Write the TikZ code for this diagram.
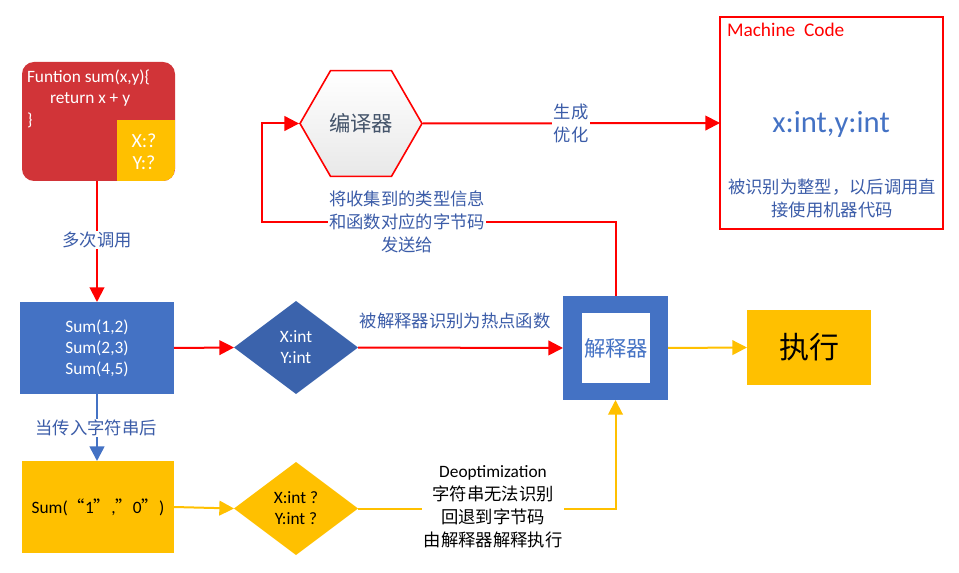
\documentclass[tikz,border=0pt]{standalone}
\usepackage{fontspec}
\setmainfont{Carlito}
\newfontfamily\cjk{Noto Sans CJK SC}
\usetikzlibrary{shapes.geometric,arrows.meta}
\definecolor{cred}{RGB}{209,52,56}
\definecolor{cyel}{RGB}{255,192,0}
\definecolor{cblue}{RGB}{68,114,196}
\definecolor{dblue}{RGB}{59,99,172}
\definecolor{lblue}{RGB}{59,92,168}
\definecolor{slate}{RGB}{68,84,106}
\definecolor{lred}{RGB}{255,0,0}
\begin{document}
\begin{tikzpicture}[x=0.75pt,y=-0.75pt,
  box/.style={inner sep=0pt,outer sep=0pt},
  tf/.style={font=\fontsize{13pt}{15.75pt}\selectfont},
  redarrow/.style={draw=lred,line width=1.5pt,-{Triangle[length=11pt,width=11pt]}},
  yelarrow/.style={draw=cyel,line width=1.5pt,-{Triangle[length=11pt,width=11pt]}},
  bluearrow/.style={draw=cblue,line width=2pt,-{Triangle[length=11pt,width=11pt]}},
  lab/.style={fill=white,inner sep=1pt,align=center,text=lblue,font=\cjk\fontsize{13pt}{17.5pt}\selectfont},
]
\useasboundingbox (0,0) rectangle (959,573);

% code box
\node[box,fill=cred,rounded corners=9pt,minimum width=114.75pt,minimum height=89.25pt] (code) at (98.5,121.5) {};
\begin{scope}
  \clip[rounded corners=9pt] (22,62) rectangle (175,181);
  \fill[cyel] (117,120) rectangle (175,181);
\end{scope}
\node[box,text=white,tf,anchor=west] (l1) at (27,78) {Funtion sum(x,y)\{};
\node[box,text=white,tf,anchor=west] (l2) at (50,99) {return x + y};
\node[box,text=white,tf,anchor=west] (l3) at (27,120) {\}};
\node[box,text=white,align=center,font=\fontsize{15pt}{16.5pt}\selectfont] (xy) at (144,152) {X:?\\Y:?};

% sums box
\node[box,fill=cblue,minimum width=115.5pt,minimum height=69pt,text=white,align=center,tf] (sums) at (97,348) {Sum(1,2)\\Sum(2,3)\\Sum(4,5)};

% diamond 1
\node[diamond,box,fill=dblue,minimum width=93pt,minimum height=69.75pt,text=white,align=center,tf] (d1) at (296,347.5) {X:int\\Y:int};

% interpreter
\node[box,fill=cblue,minimum width=78.75pt,minimum height=78pt] (interp) at (615.5,348) {};
\node[box,fill=white,minimum width=51pt,minimum height=52.5pt,text=cblue,font=\cjk\fontsize{16pt}{18pt}\selectfont] (interpin) at (616,348) {解释器};

% exec
\node[box,fill=cyel,minimum width=93pt,minimum height=56.25pt,font=\cjk\fontsize{22.5pt}{24pt}\selectfont] (exec) at (809,347.5) {执行};

% hexagon
\node[regular polygon,regular polygon sides=6,minimum size=91.5pt,inner sep=0pt,draw=lred,line width=1.2pt,
      top color=white,bottom color=black!9,text=slate,font=\cjk\fontsize{16pt}{18pt}\selectfont] (hex) at (361,123.5) {编译器};

% machine code
\node[box,draw=lred,line width=1.2pt,minimum width=167.25pt,minimum height=159pt] (mc) at (831.5,123) {};
\node[box,anchor=west,text=lred,font=\fontsize{14.5pt}{16pt}\selectfont] (mct) at (727,30) {Machine\ \ Code};
\node[box,text=cblue,font=\fontsize{23pt}{25pt}\selectfont] (mcx) at (831,124) {x:int,y:int};
\node[box,align=center,text=lblue,font=\cjk\fontsize{13pt}{17.25pt}\selectfont] (mcd) at (832,198.5) {被识别为整型，以后调用直\\接使用机器代码};

% string box
\node[box,fill=cyel,minimum width=114pt,minimum height=69pt,tf] (sstr) at (98,507) {Sum({\cjk “}1{\cjk ”},{\cjk ”}0{\cjk ”})};

% diamond 2
\node[diamond,box,fill=cyel,minimum width=93pt,minimum height=69.75pt,align=center,tf] (d2) at (296,508.5) {X:int ?\\Y:int ?};

% connectors
\coordinate (fb) at (262,222);
\draw[redarrow] (code.south -| sums.north) -- (sums.north);
\draw[redarrow] (sums.east) -- (d1.west);
\draw[redarrow] (d1.east) -- (interp.west);
\draw[yelarrow] (interp.east) -- (exec.west);
\draw[redarrow] (interp.north) |- (fb) |- (hex.west);
\draw[redarrow] (hex.east) -- (mc.west);
\draw[bluearrow] (sums.south) -- (sums.south |- sstr.north);
\draw[yelarrow] (sstr.east) -- (d2.west);
\draw[yelarrow] (d2.east) -| (interp.south);

% labels
\node[lab] (t1) at (97,240) {多次调用};
\node[lab,fill=none] (t2) at (455,321) {被解释器识别为热点函数};
\node[lab] (t3) at (407,222) {将收集到的类型信息\\和函数对应的字节码\\发送给};
\node[lab] (t4) at (571,123.5) {生成\\优化};
\node[lab] (t5) at (96,428) {当传入字符串后};
\node[lab,text=black,font=\fontsize{13pt}{17.25pt}\selectfont] (t6) at (493,506.5) {Deoptimization\\{\cjk 字符串无法识别}\\{\cjk 回退到字节码}\\{\cjk 由解释器解释执行}};
\end{tikzpicture}
\end{document}
